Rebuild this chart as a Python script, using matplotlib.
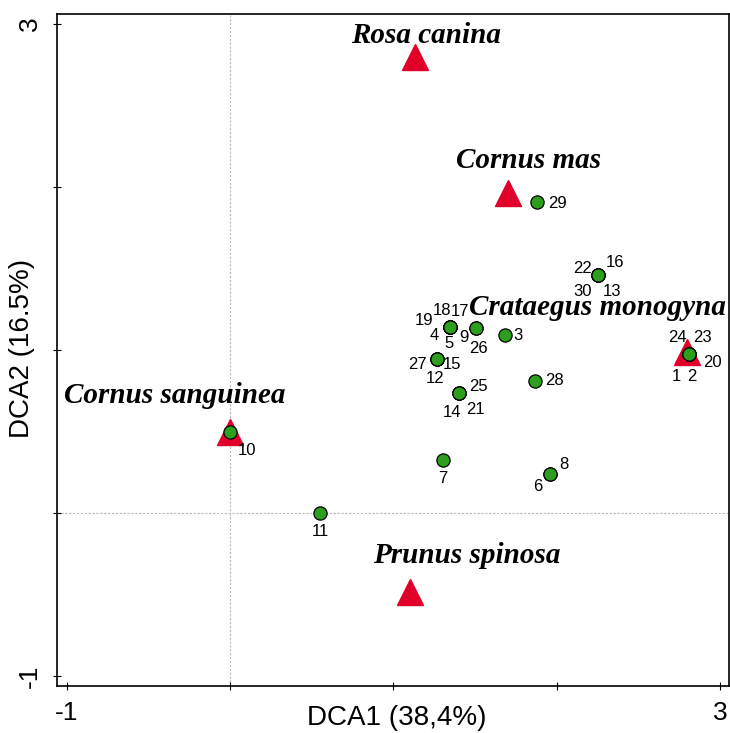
import matplotlib
matplotlib.use("Agg")
import matplotlib.pyplot as plt

# Species scores (DCA1, DCA2)
species = ["Rosa canina", "Cornus mas", "Crataegus monogyna", "Cornus sanguinea", "Prunus spinosa"]
species_x = [1.13, 1.70, 2.80, 0.00, 1.10]
species_y = [2.80, 1.96, 0.99, 0.50, -0.485]
# where the species names sit
species_label_x = [1.20, 1.83, 2.25, -0.34, 1.45]
species_label_y = [2.93, 2.16, 1.26, 0.72, -0.26]

# Site scores, sites 1..30
site_ids = list(range(1, 31))
site_x = [2.81, 2.81, 1.683, 1.346, 1.346, 1.959, 1.303, 1.959, 1.505, 0.00,
          0.55, 1.266, 2.253, 1.401, 1.266, 2.253, 1.346, 1.346, 1.346, 2.81,
          1.401, 2.253, 2.81, 2.81, 1.401, 1.505, 1.266, 1.867, 1.879, 2.253]
site_y = [0.975, 0.975, 1.092, 1.141, 1.141, 0.239, 0.325, 0.239, 1.135, 0.497,
          0.00, 0.945, 1.460, 0.736, 0.945, 1.460, 1.141, 1.141, 1.141, 0.975,
          0.736, 1.460, 0.975, 0.975, 0.736, 1.135, 0.945, 0.810, 1.908, 1.460]
# label offsets in points (dx, dy), so overlapping sites stay readable
site_offsets = [(-9, -16), (2, -16), (9, 0), (-11, -6), (-1, -12), (-9, -9), (0, -13), (10, 7), (-9, -7), (12, -13),
                (0, -13), (-1, -14), (10, -12), (-5, -14), (11, -4), (12, 9), (7, 11), (-6, 12), (-19, 5), (17, -6),
                (12, -12), (-11, 5), (10, 12), (-8, 12), (14, 5), (2, -15), (-14, -4), (14, 0), (15, -1), (-11, -12)]

narrow = ["Liberation Sans Narrow", "Liberation Sans"]

fig = plt.figure(figsize=(7.3, 7.33), dpi=100)
ax = fig.add_axes([57 / 730, 47 / 733, 672 / 730, 672 / 733])

ax.axvline(0, color="#b8b8b8", lw=0.8, ls=(0, (2, 1.5)), zorder=0)
ax.axhline(0, color="#b8b8b8", lw=0.8, ls=(0, (2, 1.5)), zorder=0)

ax.plot(species_x, species_y, ls="none", marker="^", ms=19, color="#e0002a", zorder=2)
ax.plot(site_x, site_y, ls="none", marker="o", ms=9.5, mfc="#2ca01c", mec="black", mew=0.9, zorder=3)

for name, lx, ly in zip(species, species_label_x, species_label_y):
    ax.text(lx, ly, name, ha="center", va="center", fontsize=21, family="Liberation Serif",
            style="italic", weight="bold", zorder=4)

for sid, sx, sy, (dx, dy) in zip(site_ids, site_x, site_y, site_offsets):
    ax.annotate(str(sid), (sx, sy), xytext=(dx, dy), textcoords="offset points",
                ha="center", va="center", fontsize=12, family="Liberation Sans", zorder=4)

ax.set_xlim(-1.061, 3.055)
ax.set_ylim(-1.061, 3.061)
ax.set_xticks([-1, 0, 1, 2, 3])
ax.set_yticks([-1, 0, 1, 2, 3])
ax.set_xticklabels(["-1", "", "", "", "3"])
ax.set_yticklabels(["-1", "", "", "", "3"], rotation=90, va="center")
ax.tick_params(direction="inout", length=6, width=0.8, labelsize=19, pad=8)
for lab in ax.get_xticklabels() + ax.get_yticklabels():
    lab.set_family(narrow)
for sp in ax.spines.values():
    sp.set_linewidth(1.2)

ax.set_xlabel("DCA1 (38,4%)", fontsize=20, family=narrow, va="center")
ax.set_ylabel("DCA2 (16.5%)", fontsize=20, family=narrow, va="center")
ax.xaxis.set_label_coords(0.506, -0.048)
ax.yaxis.set_label_coords(-0.052, 0.503)

fig.savefig("out.png", dpi=100)
